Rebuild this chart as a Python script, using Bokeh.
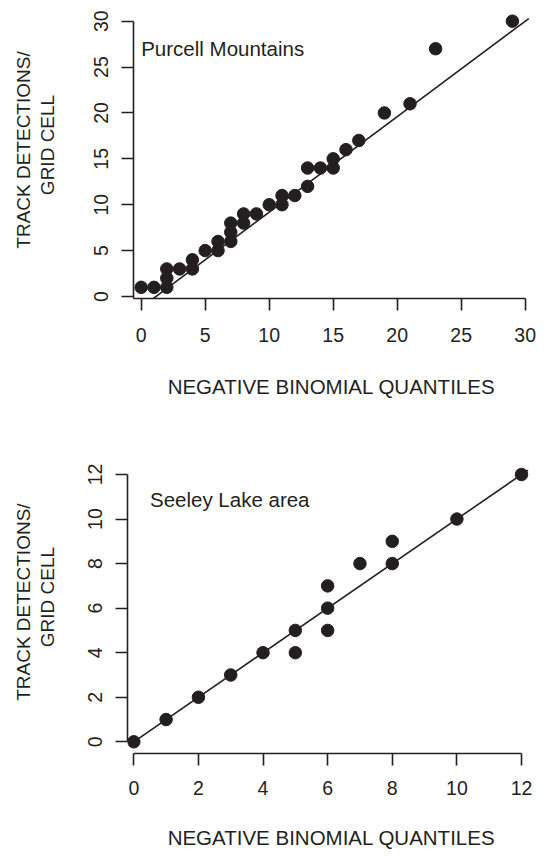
import math
from bokeh.plotting import figure
from bokeh.models import LinearAxis, FixedTicker, Label, Range1d
from bokeh.layouts import column, row
from bokeh.embed import file_html
from bokeh.resources import INLINE

INK = "#231f20"
FONT = "Liberation Sans"

# ---- Purcell Mountains (top panel) ----
pur_quantiles = [0, 1, 2, 2, 2, 3, 4, 4, 5, 6, 6, 7, 7, 7, 8, 8, 9, 10, 11, 11,
                 12, 13, 13, 14, 15, 15, 16, 17, 19, 21, 23, 29]
pur_detections = [1, 1, 1, 2, 3, 3, 3, 4, 5, 5, 6, 6, 7, 8, 8, 9, 9, 10, 10, 11,
                  11, 12, 14, 14, 14, 15, 16, 17, 20, 21, 27, 30]
pur_ticks = [0, 5, 10, 15, 20, 25, 30]
pur_line_coef = (-1.2, 1.04)      # intercept, slope of reference line
pur_line_span = [-0.62, 30.28]

# ---- Seeley Lake area (bottom panel) ----
see_quantiles = [0, 1, 2, 3, 4, 5, 5, 6, 6, 6, 7, 8, 8, 10, 12]
see_detections = [0, 1, 2, 3, 4, 4, 5, 5, 6, 7, 8, 8, 9, 10, 12]
see_ticks = [0, 2, 4, 6, 8, 10, 12]
see_line_coef = (0.0, 1.0)
see_line_span = [0, 12.2]

Y_TITLE_LINES = ["TRACK DETECTIONS/", "GRID CELL"]
X_TITLE = "NEGATIVE BINOMIAL QUANTILES"

LAB_W = 62  # width of the strip holding the rotated y titles


def style_axis(ax, vertical, tick_standoff, title_standoff=None):
    ax.axis_line_color = INK
    ax.axis_line_width = 1.6
    ax.major_tick_line_color = INK
    ax.major_tick_line_width = 1.6
    ax.major_tick_out = 12
    ax.major_tick_in = 0
    ax.minor_tick_line_color = None
    ax.major_label_text_font = FONT
    ax.major_label_text_font_size = "19.5px"
    ax.major_label_text_color = INK
    ax.major_label_standoff = tick_standoff
    if vertical:
        ax.major_label_orientation = "vertical"
    else:
        ax.axis_label_text_font = FONT
        ax.axis_label_text_font_style = "normal"
        ax.axis_label_text_color = INK
        ax.axis_label_text_font_size = "20.5px"
        ax.axis_label_standoff = title_standoff


def title_strip(height, line_pos):
    s = figure(frame_width=LAB_W, frame_height=height, x_range=Range1d(0, LAB_W),
               y_range=Range1d(0, height), output_backend="svg",
               toolbar_location=None, x_axis_location=None, y_axis_location=None,
               min_border_left=0, min_border_right=0, min_border_top=0,
               min_border_bottom=0)
    s.outline_line_color = None
    s.grid.visible = False
    s.background_fill_color = "white"
    s.border_fill_color = "white"
    for txt, (xx, yy) in zip(Y_TITLE_LINES, line_pos):
        s.add_layout(Label(x=xx, y=height - yy, text=txt, angle=math.pi / 2,
                           text_font=FONT, text_font_size="19px", text_color=INK,
                           text_align="center", text_baseline="middle"))
    return s


def panel(q, obs, ticks, coef, span, xr, yr, height, mb, xb, yb, name, name_xy,
          x_tick_so, x_title_so):
    p = figure(width=544 - LAB_W, height=height, x_range=Range1d(*xr),
               y_range=Range1d(*yr), output_backend="svg", toolbar_location=None,
               x_axis_location=None, y_axis_location=None,
               min_border_left=mb[0] - LAB_W, min_border_right=mb[1],
               min_border_top=mb[2], min_border_bottom=mb[3])
    p.outline_line_color = None
    p.grid.visible = False
    p.background_fill_color = "white"
    p.border_fill_color = "white"

    xa = LinearAxis(ticker=FixedTicker(ticks=ticks), bounds=xb, axis_label=X_TITLE)
    style_axis(xa, False, x_tick_so, x_title_so)
    p.add_layout(xa, "below")
    ya = LinearAxis(ticker=FixedTicker(ticks=ticks), bounds=yb)
    style_axis(ya, True, 13)
    p.add_layout(ya, "left")

    ys = [coef[0] + coef[1] * x for x in span]
    p.line(span, ys, line_color=INK, line_width=1.6)
    p.scatter(q, obs, size=12.5, fill_color=INK, line_color=INK)

    p.add_layout(Label(x=name_xy[0], y=name_xy[1], text=name, text_font=FONT,
                       text_font_size="20.5px", text_color=INK,
                       text_align="left", text_baseline="alphabetic"))
    return p


# top: frame x 133..529 px, y 10..298 px
p1 = panel(pur_quantiles, pur_detections, pur_ticks, pur_line_coef, pur_line_span,
           (-0.6016, 30.336), (-0.218, 31.165), 454, (133, 15, 10, 156),
           (-0.6016, 30), (-0.218, 30), "Purcell Mountains", (0, 27), 17, 30)
s1 = title_strip(454, [(22.5, 139.5), (47, 134.5)])

# bottom: frame x 127..535 px, y 464..753 px (canvas y 10..299)
p2 = panel(see_quantiles, see_detections, see_ticks, see_line_coef, see_line_span,
           (-0.195, 12.433), (-0.525, 12.449), 402, (127, 9, 10, 103),
           (0, 12), (0, 12), "Seeley Lake area", (0.5, 10.9), 15, 28)
s2 = title_strip(402, [(22.5, 137.6), (47, 132.6)])

layout = column(row(s1, p1), row(s2, p2))
open("out.html", "w").write(file_html(layout, INLINE))
